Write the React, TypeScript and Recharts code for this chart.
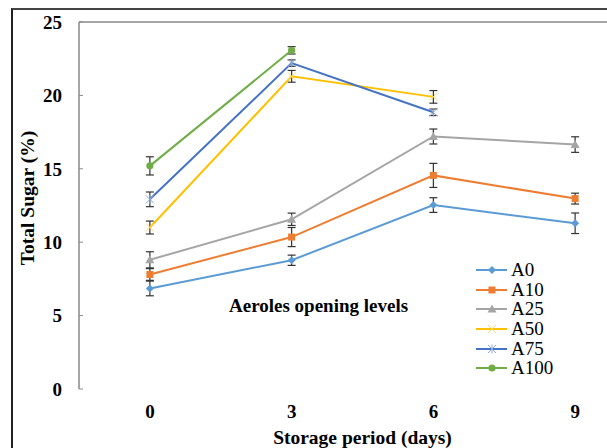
import React from "react";
import { LineChart, Line, XAxis, YAxis, ErrorBar, ReferenceLine, Label } from "recharts";

// Storage period categories (days) and y ticks
const DAYS = ["0", "3", "6", "9"];
const Y_TICKS = [0, 5, 10, 15, 20, 25];

// Total sugar (%) per aeroles opening level, with error bar half-lengths
const A0 = [6.85, 8.77, 12.53, 11.29];
const A0_ERR = [0.5, 0.35, 0.5, 0.7];
const A10 = [7.8, 10.35, 14.55, 12.97];
const A10_ERR = [0.4, 0.65, 0.82, 0.37];
const A25 = [8.8, 11.56, 17.2, 16.65];
const A25_ERR = [0.55, 0.42, 0.51, 0.53];
const A50 = [11.0, 21.3, 19.9, null];
const A50_ERR = [0.44, 0.4, 0.43, null];
const A75 = [12.92, 22.2, 18.85, null];
const A75_ERR = [0.5, 0.22, 0.22, null];
const A100 = [15.2, 23.07, null, null];
const A100_ERR = [0.62, 0.25, null, null];

const SERIES = [
  { name: "A0", values: A0, errs: A0_ERR, color: "#5B9BD5", shape: "diamond" },
  { name: "A10", values: A10, errs: A10_ERR, color: "#ED7D31", shape: "square" },
  { name: "A25", values: A25, errs: A25_ERR, color: "#A5A5A5", shape: "triangle" },
  { name: "A50", values: A50, errs: A50_ERR, color: "#FFC000", shape: "x" },
  { name: "A75", values: A75, errs: A75_ERR, color: "#4472C4", shape: "star" },
  { name: "A100", values: A100, errs: A100_ERR, color: "#70AD47", shape: "circle" },
];

const FONT = '"Liberation Serif", "Times New Roman", serif';
const AXIS_GRAY = "#898989";

const rows = DAYS.map((d, i) => {
  const row: Record<string, number | string | null> = { i, day: d };
  for (const s of SERIES) {
    row[s.name] = s.values[i];
    row[s.name + "_err"] = s.errs[i];
  }
  return row;
});

function Marker({ shape, cx, cy, color }: { shape: string; cx: number; cy: number; color: string }) {
  switch (shape) {
    case "diamond":
      return <path d={`M${cx},${cy - 4}L${cx + 4},${cy}L${cx},${cy + 4}L${cx - 4},${cy}Z`} fill={color} />;
    case "square":
      return <rect x={cx - 3.5} y={cy - 3.5} width={7} height={7} fill={color} />;
    case "triangle":
      return <path d={`M${cx},${cy - 4.5}L${cx + 4.5},${cy + 3.5}L${cx - 4.5},${cy + 3.5}Z`} fill={color} />;
    case "x":
      return (
        <g stroke="#FFD966" strokeWidth={1}>
          <line x1={cx - 4} y1={cy - 4} x2={cx + 4} y2={cy + 4} />
          <line x1={cx - 4} y1={cy + 4} x2={cx + 4} y2={cy - 4} />
        </g>
      );
    case "star":
      return (
        <g stroke="#8FAADC" strokeWidth={1}>
          <line x1={cx - 4} y1={cy - 4} x2={cx + 4} y2={cy + 4} />
          <line x1={cx - 4} y1={cy + 4} x2={cx + 4} y2={cy - 4} />
          <line x1={cx} y1={cy - 4.5} x2={cx} y2={cy + 4.5} />
        </g>
      );
    default:
      return <circle cx={cx} cy={cy} r={3.6} fill={color} />;
  }
}

function LegendBox() {
  return (
    <div style={{ fontFamily: FONT, fontSize: 19, color: "#000", lineHeight: "19.7px" }}>
      {SERIES.map((s) => (
        <div key={s.name} style={{ display: "flex", alignItems: "center", height: 19.7 }}>
          <svg width={34} height={12} style={{ marginRight: 1 }}>
            <line x1={0} y1={6} x2={31} y2={6} stroke={s.color} strokeWidth={2} />
            <Marker shape={s.shape} cx={16} cy={6} color={s.color} />
          </svg>
          <span>{s.name}</span>
        </div>
      ))}
    </div>
  );
}

export default function App() {
  return (
    <div style={{ position: "fixed", left: 0, top: 0, width: 607, height: 448, overflow: "hidden", background: "#fff" }}>
      <div
        style={{
          position: "absolute",
          left: 11,
          top: 8,
          width: 700,
          height: 500,
          borderLeft: "2px solid #222",
          borderTop: "2px solid #444",
        }}
      />
      <div style={{ position: "absolute", left: 0, top: 0 }}>
        <LineChart width={660} height={448} data={rows} margin={{ top: 22, right: 14, left: 0, bottom: 0 }}>
          <XAxis
            xAxisId="marks"
            type="number"
            dataKey="i"
            domain={[-0.5, 3.5]}
            allowDataOverflow
            ticks={[0.5, 1.5, 2.5]}
            tick={(p: any) => (
              <line x1={p.x} x2={p.x} y1={p.y - 5} y2={p.y} stroke={AXIS_GRAY} strokeWidth={1} />
            )}
            height={0}
            tickSize={0}
            tickMargin={0}
            axisLine={{ stroke: AXIS_GRAY, strokeWidth: 1.5 }}
            tickLine={false}
          />
          <XAxis
            xAxisId="labels"
            type="number"
            dataKey="i"
            domain={[-0.5, 3.5]}
            allowDataOverflow
            ticks={[0, 1, 2, 3]}
            tickFormatter={(v) => DAYS[v]}
            axisLine={false}
            tickLine={false}
            tickSize={0}
            tickMargin={16}
            height={59}
            tick={{ fontFamily: FONT, fontSize: 19, fontWeight: "bold", fill: "#000" }}
          >
            <Label
              content={({ viewBox }: any) => (
                <text
                  x={viewBox.x + viewBox.width / 2}
                  y={444}
                  textAnchor="middle"
                  fontFamily={FONT}
                  fontSize={19.5}
                  fontWeight="bold"
                  fill="#000"
                >
                  Storage period (days)
                </text>
              )}
            />
          </XAxis>
          <YAxis
            type="number"
            domain={[0, 25]}
            ticks={Y_TICKS}
            width={79}
            tickSize={-4}
            tickMargin={21}
            axisLine={{ stroke: AXIS_GRAY, strokeWidth: 1.5 }}
            tickLine={{ stroke: AXIS_GRAY, strokeWidth: 1 }}
            tick={{ fontFamily: FONT, fontSize: 19, fontWeight: "bold", fill: "#000" }}
          >
            <Label
              content={() => (
                <text
                  transform="translate(34,198) rotate(-90)"
                  textAnchor="middle"
                  fontFamily={FONT}
                  fontSize={19.5}
                  fontWeight="bold"
                  fill="#000"
                >
                  Total Sugar (%)
                </text>
              )}
            />
          </YAxis>
          <ReferenceLine xAxisId="labels" y={25} stroke={AXIS_GRAY} strokeWidth={1.5} />
          {SERIES.map((s) => (
            <Line
              key={s.name}
              xAxisId="labels"
              dataKey={s.name}
              stroke={s.color}
              strokeWidth={2}
              isAnimationActive={false}
              dot={(p: any) =>
                p.cy == null || p.value == null ? (
                  <g key={p.index} />
                ) : (
                  <Marker key={p.index} shape={s.shape} cx={p.cx} cy={p.cy} color={s.color} />
                )
              }
              activeDot={false}
            >
              <ErrorBar
                dataKey={s.name + "_err"}
                direction="y"
                width={4}
                stroke="#333"
                strokeWidth={1.2}
                isAnimationActive={false}
              />
            </Line>
          ))}
        </LineChart>
      </div>
      <div style={{ position: "absolute", left: 476, top: 260 }}>
        <LegendBox />
      </div>
      <div
        style={{
          position: "absolute",
          left: 229,
          top: 295,
          fontFamily: FONT,
          fontSize: 19,
          fontWeight: "bold",
          color: "#000",
          whiteSpace: "nowrap",
        }}
      >
        Aeroles opening levels
      </div>
    </div>
  );
}
